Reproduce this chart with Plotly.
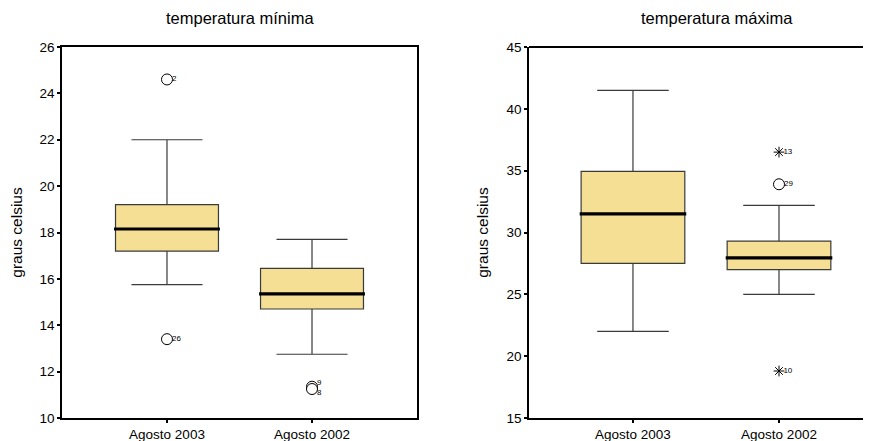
import plotly.graph_objects as go

categories = ["Agosto 2003", "Agosto 2002"]

# temperatura mínima
min_q1 = [17.2, 14.7]
min_median = [18.15, 15.35]
min_q3 = [19.2, 16.45]
min_low = [15.75, 12.75]
min_high = [22.0, 17.7]
min_out_x = [0, 0, 1, 1]
min_out_y = [24.6, 13.4, 11.35, 11.25]
min_out_lab = ["2", "26", "9", "8"]
min_out_pos = ["middle right", "middle right", "top right", "bottom right"]

# temperatura máxima
max_q1 = [27.5, 27.0]
max_median = [31.5, 27.95]
max_q3 = [34.95, 29.3]
max_low = [22.0, 25.0]
max_high = [41.5, 32.2]
max_out_x = [1]
max_out_y = [33.9]
max_out_lab = ["29"]
max_out_pos = ["middle right"]
max_ext_x = [1, 1]
max_ext_y = [36.5, 18.8]
max_ext_lab = ["13", "10"]

FILL = "#F5DF94"
EDGE = "#3a3a3a"
BW = 0.71
FONT = "Liberation Sans, Arial, sans-serif"

fig = go.Figure()

def add_panel(xa, ya, q1, med, q3, lo, hi):
    xs = list(range(len(categories)))
    fig.add_trace(go.Box(
        x=xs, q1=q1, median=med, q3=q3, lowerfence=lo, upperfence=hi,
        width=BW, whiskerwidth=0.69, fillcolor=FILL,
        line=dict(color=EDGE, width=1.2), boxpoints=False,
        xaxis=xa, yaxis=ya, showlegend=False, hoverinfo="skip"))
    for i, m in enumerate(med):
        fig.add_trace(go.Scatter(
            x=[i - BW / 2 - 0.01, i + BW / 2 + 0.01], y=[m, m], mode="lines",
            line=dict(color="black", width=3.2), xaxis=xa, yaxis=ya,
            showlegend=False, hoverinfo="skip"))

def add_points(xa, ya, xs, ys, labs, pos, symbol, size, lw):
    fig.add_trace(go.Scatter(
        x=xs, y=ys, mode="markers", xaxis=xa, yaxis=ya,
        marker=dict(symbol=symbol, size=size, color="white",
                    line=dict(color="black", width=lw)),
        showlegend=False, hoverinfo="skip"))
    fig.add_trace(go.Scatter(
        x=[x + 0.035 for x in xs], y=ys, mode="text", text=labs,
        textposition=pos, textfont=dict(size=8, family=FONT, color="black"),
        xaxis=xa, yaxis=ya, showlegend=False, hoverinfo="skip"))

add_panel("x", "y", min_q1, min_median, min_q3, min_low, min_high)
add_points("x", "y", min_out_x, min_out_y, min_out_lab, min_out_pos, "circle", 11, 1)

add_panel("x2", "y2", max_q1, max_median, max_q3, max_low, max_high)
add_points("x2", "y2", max_out_x, max_out_y, max_out_lab, max_out_pos, "circle", 11, 1)
fig.add_trace(go.Scatter(
    x=max_ext_x, y=max_ext_y, mode="markers", xaxis="x2", yaxis="y2",
    marker=dict(symbol="asterisk-open", size=9, color="black",
                line=dict(color="black", width=1)),
    showlegend=False, hoverinfo="skip"))
fig.add_trace(go.Scatter(
    x=[x + 0.03 for x in max_ext_x], y=max_ext_y, mode="text", text=max_ext_lab,
    textposition="middle right", textfont=dict(size=8, family=FONT, color="black"),
    xaxis="x2", yaxis="y2", showlegend=False, hoverinfo="skip"))

# The page body has an 8px margin; lay out in screen pixels and compensate.
OFF = 8
W, H = 871 - OFF, 441 - OFF

def px_x(sx):
    return (sx - OFF) / W

def px_y(sy):
    return 1 - (sy - OFF) / H

xcommon = dict(tickvals=[0, 1], ticktext=categories, showgrid=False, zeroline=False,
               ticks="outside", ticklen=3, tickwidth=2, tickcolor="black",
               showline=True, linecolor="black", linewidth=1.5, automargin=False,
               tickfont=dict(size=13.5, family=FONT, color="black"))
ycommon = dict(showgrid=False, zeroline=False, ticks="outside", ticklen=3, tickwidth=2,
               tickcolor="black", showline=True, linecolor="black", linewidth=1.5,
               automargin=False,
               tickfont=dict(size=13.5, family=FONT, color="black"),
               title=dict(text="graus celsius", font=dict(size=15.5, family=FONT, color="black")))

fig.update_layout(
    template="none",
    width=W, height=H, margin=dict(l=0, r=0, t=0, b=0, pad=0),
    paper_bgcolor="white", plot_bgcolor="white",
    xaxis=dict(domain=[px_x(62), px_x(417)], range=[-0.724, 1.724], mirror=True, **xcommon),
    yaxis=dict(domain=[px_y(418), px_y(47)], range=[10, 26], dtick=2, mirror=True,
               title_standoff=13, **ycommon),
    xaxis2=dict(domain=[px_x(529), 1.0], range=[-0.712, 1.63], anchor="y2", **xcommon),
    yaxis2=dict(domain=[px_y(418), px_y(47)], range=[15, 45], dtick=5, anchor="x2",
                title_standoff=14, **ycommon),
    shapes=[dict(type="line", xref="x2 domain", yref="y2 domain", x0=0, x1=1, y0=1, y1=1,
                 line=dict(color="black", width=2))],
    annotations=[
        dict(text="temperatura mínima", x=px_x((62 + 417) / 2), y=px_y(18), xref="paper",
             yref="paper", xanchor="center", yanchor="middle", showarrow=False,
             font=dict(size=16.5, family=FONT, color="black")),
        dict(text="temperatura máxima", x=px_x((529 + 904) / 2), y=px_y(18), xref="paper",
             yref="paper", xanchor="center", yanchor="middle", showarrow=False,
             font=dict(size=16.5, family=FONT, color="black")),
    ],
)

fig.write_html("out.html")
